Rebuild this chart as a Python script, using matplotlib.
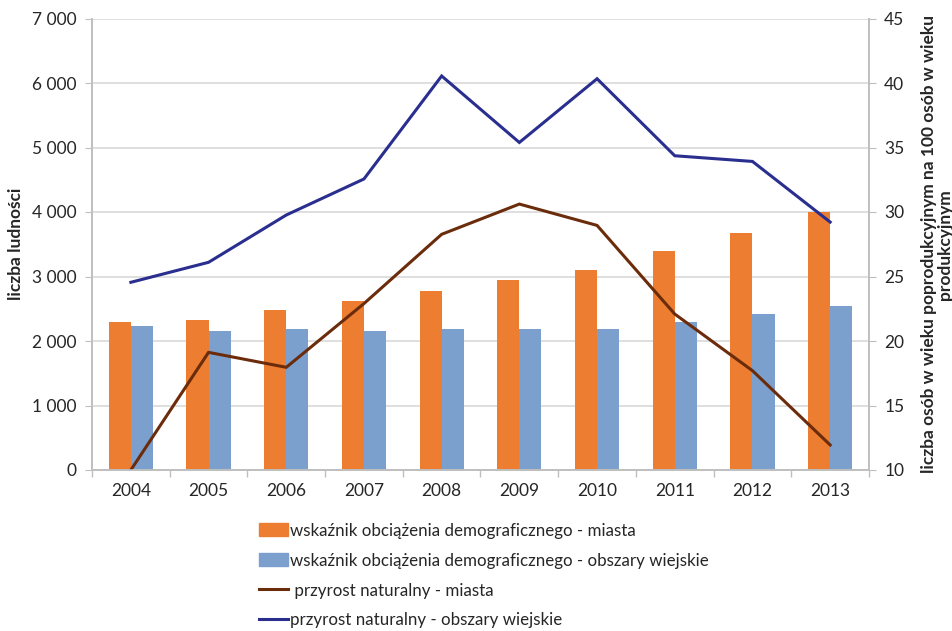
import matplotlib
matplotlib.use("Agg")
import matplotlib.pyplot as plt
from matplotlib.ticker import FuncFormatter, FixedLocator
from matplotlib.patches import Patch
from matplotlib.lines import Line2D
import numpy as np

plt.rcParams['font.family'] = ['Lato', 'DejaVu Sans']

years = ['2004', '2005', '2006', '2007', '2008', '2009', '2010', '2011', '2012', '2013']
# wskaźnik obciążenia demograficznego (right axis)
wsk_miasta = [21.5, 21.6, 22.4, 23.1, 23.9, 24.7, 25.5, 27.0, 28.4, 30.0]
wsk_wies = [21.2, 20.8, 20.9, 20.8, 20.9, 20.9, 20.95, 21.5, 22.1, 22.7]
# przyrost naturalny (left axis)
prz_miasta = [0, 1824, 1592, 2580, 3654, 4123, 3792, 2418, 1540, 388]
prz_wies = [2910, 3220, 3953, 4512, 6109, 5078, 6066, 4872, 4784, 3844]

labels = ['wskaźnik obciążenia demograficznego - miasta',
          'wskaźnik obciążenia demograficznego - obszary wiejskie',
          ' przyrost naturalny - miasta',
          'przyrost naturalny - obszary wiejskie']

c_orange = '#ED7D31'
c_lblue = '#7BA0CD'
c_brown = '#6B2C0C'
c_navy = '#2A2F8F'
c_grid = '#D9D9D9'
c_spine = '#BFBFBF'
c_text = '#262626'

fig = plt.figure(figsize=(9.53, 6.31), dpi=100)
ax = fig.add_axes([92/953, 1-470/631, (869-92)/953, (470-18.5)/631])
ax2 = ax.twinx()

x = np.arange(len(years))
w = 0.285
ax2.bar(x - w/2, wsk_miasta, width=w, color=c_orange)
ax2.bar(x + w/2, wsk_wies, width=w, color=c_lblue)
ax2.set_ylim(10, 45)
ax2.set_yticks(np.arange(10, 46, 5))

ax.plot(x, prz_miasta, color=c_brown, lw=2.2, solid_joinstyle='miter')
ax.plot(x, prz_wies, color=c_navy, lw=2.2, solid_joinstyle='miter')
ax.set_ylim(0, 7000)
ax.set_yticks(np.arange(0, 7001, 1000))
ax.yaxis.set_major_formatter(FuncFormatter(lambda v, p: f"{int(v):,}".replace(',', ' ')))
ax.set_xlim(-0.5, len(years) - 0.5)

# bars below lines
ax.set_zorder(ax2.get_zorder() + 1)
ax.patch.set_visible(False)

# grid on ax2 (behind bars)
ax2.set_axisbelow(True)
ax2.yaxis.grid(True, color=c_grid, lw=1.2)

ax.set_xticks(x)
ax.set_xticklabels(years)
ax.xaxis.set_minor_locator(FixedLocator(np.arange(-0.5, len(years), 1.0)))
ax.tick_params(axis='x', which='major', length=0, pad=9, labelsize=12.5, colors=c_text)
ax.tick_params(axis='x', which='minor', length=5, color=c_spine, width=1)
ax.tick_params(axis='y', length=5, color=c_spine, labelsize=12.5, colors=c_text, pad=6)
ax2.tick_params(axis='y', length=5, color=c_spine, labelsize=12.5, colors=c_text, pad=6)

for a in (ax, ax2):
    a.spines['top'].set_visible(False)
    for s in ('left', 'right', 'bottom'):
        a.spines[s].set_color(c_spine)
        a.spines[s].set_linewidth(1.2)

ax.set_ylabel('liczba ludności', fontsize=12.5, fontweight='bold', color=c_text, labelpad=6)
ax2.set_ylabel('liczba osób w wieku poprodukcyjnym na 100 osób w wieku\nprodukcyjnym',
               fontsize=12.5, fontweight='bold', color=c_text, labelpad=12,
               linespacing=0.95)

handles = [Patch(color=c_orange), Patch(color=c_lblue),
           Line2D([0], [0], color=c_brown, lw=2.2),
           Line2D([0], [0], color=c_navy, lw=2.2)]
fig.legend(handles, labels, loc='upper left', bbox_to_anchor=(252/953, 1-516/631),
           frameon=False, fontsize=12.2, handlelength=1.75, handleheight=0.8,
           handletextpad=0.1, labelspacing=0.82, labelcolor=c_text, borderaxespad=0)

fig.savefig('out.png', dpi=100)
